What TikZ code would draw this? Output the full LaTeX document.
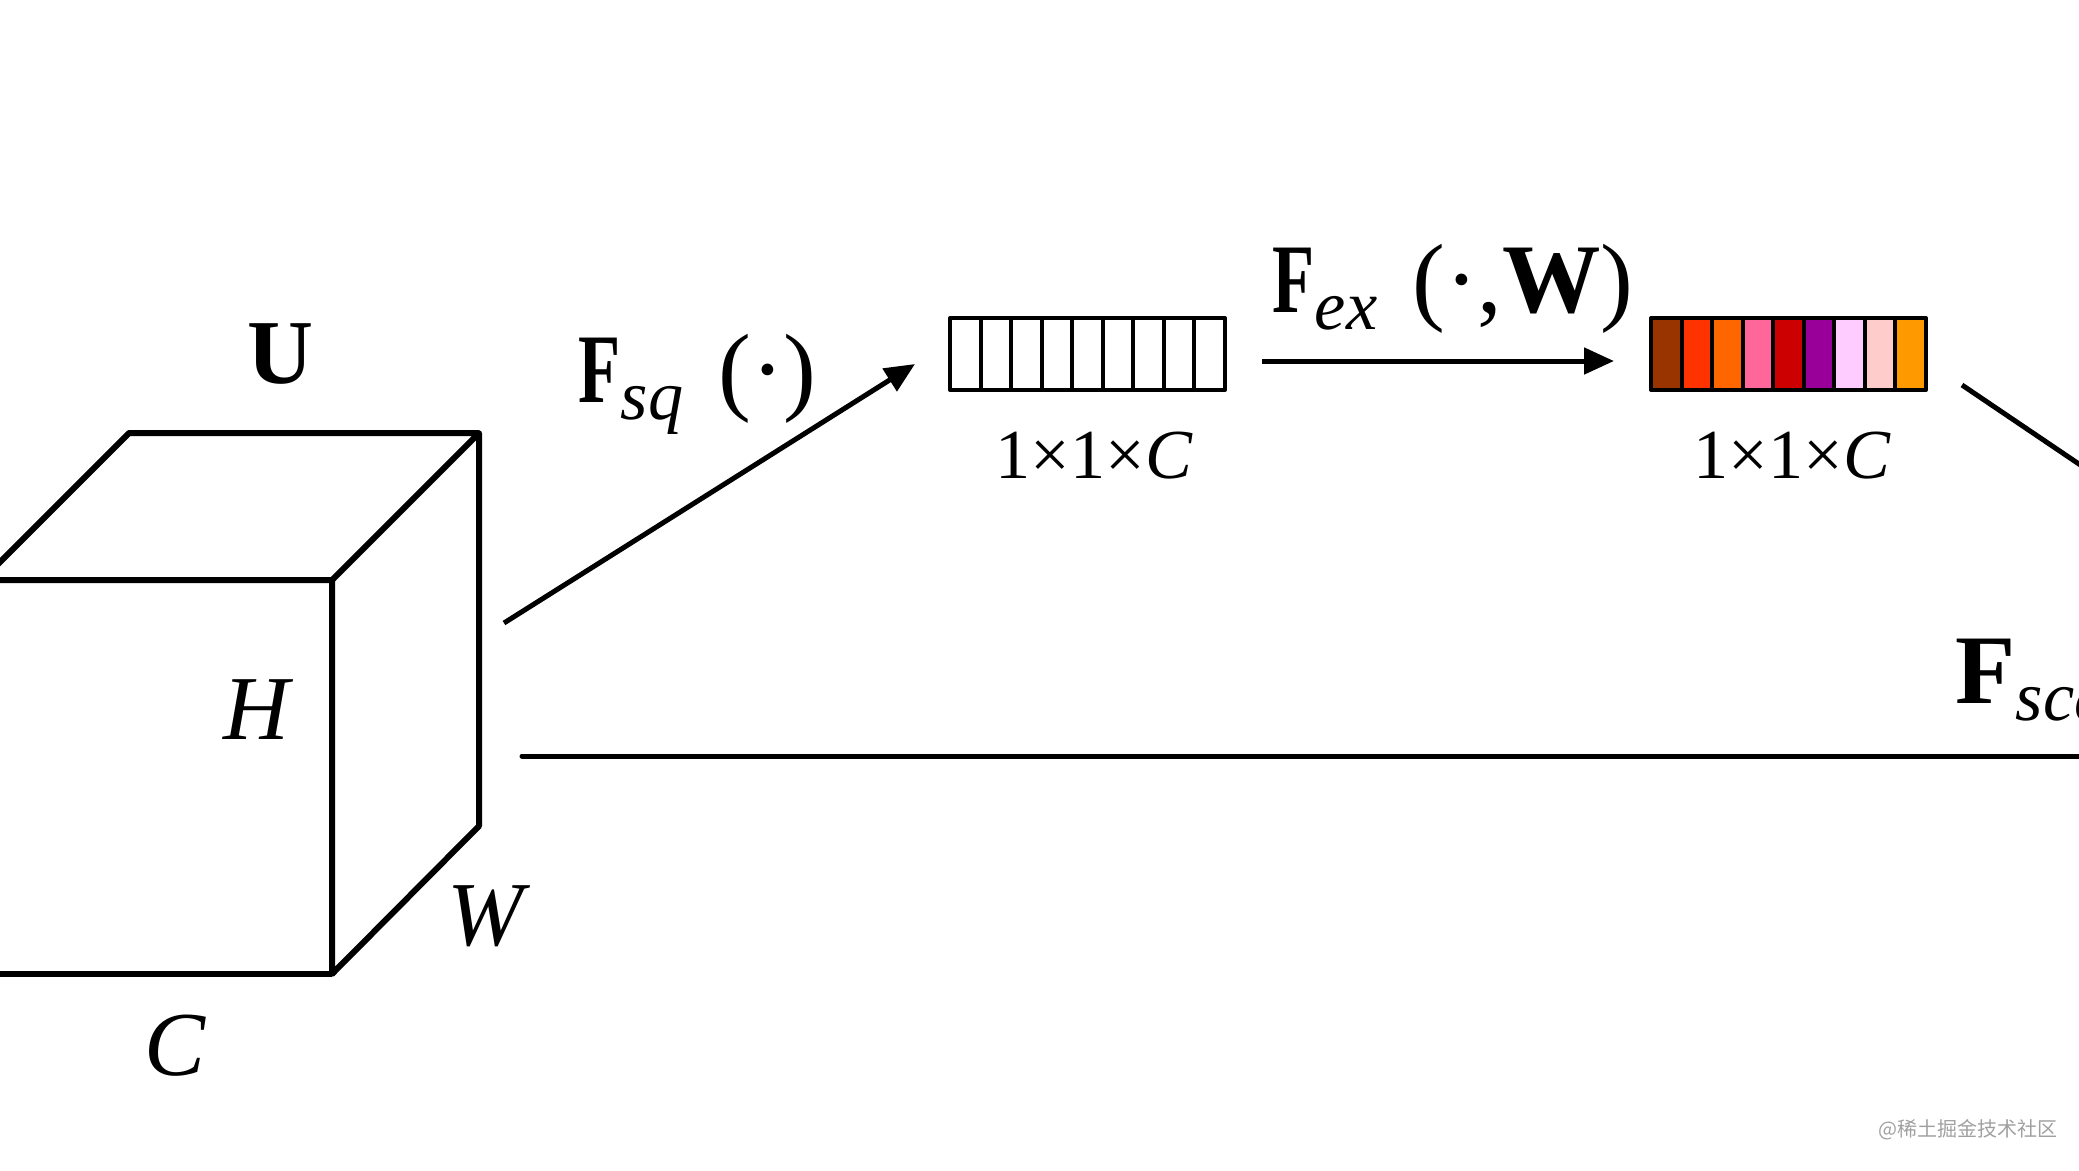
\documentclass[tikz,border=0pt]{standalone}
\usepackage{graphicx}
\usepackage{fontspec}
\setmainfont{Liberation Serif}
\newfontfamily\cjk{Noto Sans CJK SC}
\usetikzlibrary{arrows.meta}
\definecolor{chbrown}{HTML}{993300}
\definecolor{chscarlet}{HTML}{FF3300}
\definecolor{chorange}{HTML}{FF6600}
\definecolor{chpink}{HTML}{FF6699}
\definecolor{chred}{HTML}{CC0000}
\definecolor{chpurple}{HTML}{990099}
\definecolor{chlilac}{HTML}{FFCCFF}
\definecolor{chblush}{HTML}{FFCCCC}
\definecolor{chamber}{HTML}{FF9900}
\definecolor{markgray}{HTML}{A0A0A0}

% narrow bold F and lowered italic subscript of the operator labels
\newcommand{\opF}{\scalebox{0.7}[1]{\bfseries F}}
\newcommand{\opsub}[1]{\raisebox{-5pt}{\fontsize{20}{20}\selectfont\itshape #1}}

\begin{document}
\begin{tikzpicture}[
  x=0.1mm,
  y=-0.1mm,
  line join=round,
  edge/.style={draw=black,line width=0.6mm},
  cell/.style={draw=black,line width=0.4mm},
  arrow/.style={draw=black,line width=0.5mm,-{Triangle[length=3mm,width=2.6mm]}},
  vecframe/.style={minimum width=27.5mm,minimum height=7.2mm,inner sep=0pt,outer sep=0pt,anchor=north west},
  dimlabel/.style={font=\fontsize{26}{28}\selectfont\itshape,inner sep=0pt,anchor=base},
  sizelabel/.style={font=\fontsize{20}{22}\selectfont,inner sep=0pt,anchor=base},
  oplabel/.style={font=\fontsize{28}{30}\selectfont,inner sep=0pt,anchor=base west}
]
  % Frame of the cropped screenshot; the cube and the right side run off it.
  \useasboundingbox (0,0) rectangle (2079,1170);
  \clip (0,0) rectangle (2079,1170);

  % Feature map U drawn as a box in oblique view.
  \coordinate (backTL) at (129,433);
  \coordinate (backTR) at (479,433);
  \coordinate (backBR) at (479,826);
  \coordinate (frontTL) at (-18,580);
  \coordinate (frontTR) at (332,580);
  \coordinate (frontBR) at (332,974);
  \coordinate (frontBL) at (-18,974);

  \draw[edge] (frontTL) -- (backTL) -- (backTR) -- (frontTR) -- cycle;
  \draw[edge] (frontTR) -- (frontBR) -- (backBR) -- (backTR);
  \draw[edge] (frontBL) -- (frontBR);

  \node[dimlabel] (labelU) at (280,383) {\bfseries\upshape U};
  \node[dimlabel] (labelH) at (256,739) {H};
  \node[dimlabel] (labelW) at (486,945) {W};
  \node[dimlabel] (labelC) at (175,1075) {C};

  % Squeezed channel descriptor: nine empty cells.
  \node[vecframe] (sqvec) at (950,318) {};
  \foreach \i in {0,...,8}
    \draw[cell] ([xshift=\i*3.0556mm]sqvec.north west)
      rectangle ([xshift={(\i+1)*3.0556mm}]sqvec.south west);
  \node[sizelabel] (sqsize) at (1094,478) {1×1×\textit{C}};

  % Excitation weights: nine coloured cells.
  \node[vecframe] (exvec) at (1651,318) {};
  \foreach \col [count=\i from 0] in {chbrown,chscarlet,chorange,chpink,chred,chpurple,chlilac,chblush,chamber}
    \draw[cell,fill=\col] ([xshift=\i*3.0556mm]exvec.north west)
      rectangle ([xshift={(\i+1)*3.0556mm}]exvec.south west);
  \node[sizelabel] (exsize) at (1792,478) {1×1×\textit{C}};

  % Squeeze and excitation arrows.
  \coordinate (sqFrom) at (504,623);
  \coordinate (sqTo) at (915,364);
  \draw[arrow] (sqFrom) -- (sqTo);
  \node[oplabel] (sqlabel) at (578,402) {\opF\opsub{sq}\hspace{10pt}(·)};

  \coordinate (exFrom) at (1262,361);
  \coordinate (exTo) at (1614,361);
  \draw[arrow] (exFrom) -- (exTo);
  \node[oplabel] (exlabel) at (1272,312) {\opF\opsub{ex}\hspace{10pt}(·,\textbf{W})};

  % Lines leaving the frame towards the scaling step.
  \coordinate (outFrom) at (1962,385);
  \coordinate (outTo) at (2110,485);
  \draw[line width=0.5mm] (outFrom) -- (outTo);

  \coordinate (skipFrom) at (522,756);
  \coordinate (skipTo) at (2110,756);
  \draw[line width=0.5mm,line cap=round] (skipFrom) -- (skipTo);
  \node[oplabel] (scalelabel) at (1955,703) {\textbf{F}\opsub{sca}};

  % Site watermark.
  \node[font=\cjk\fontsize{5.7}{6}\selectfont,text=markgray,inner sep=0pt] (mark) at (1968,1130) {@稀土掘金技术社区};
\end{tikzpicture}
\end{document}
